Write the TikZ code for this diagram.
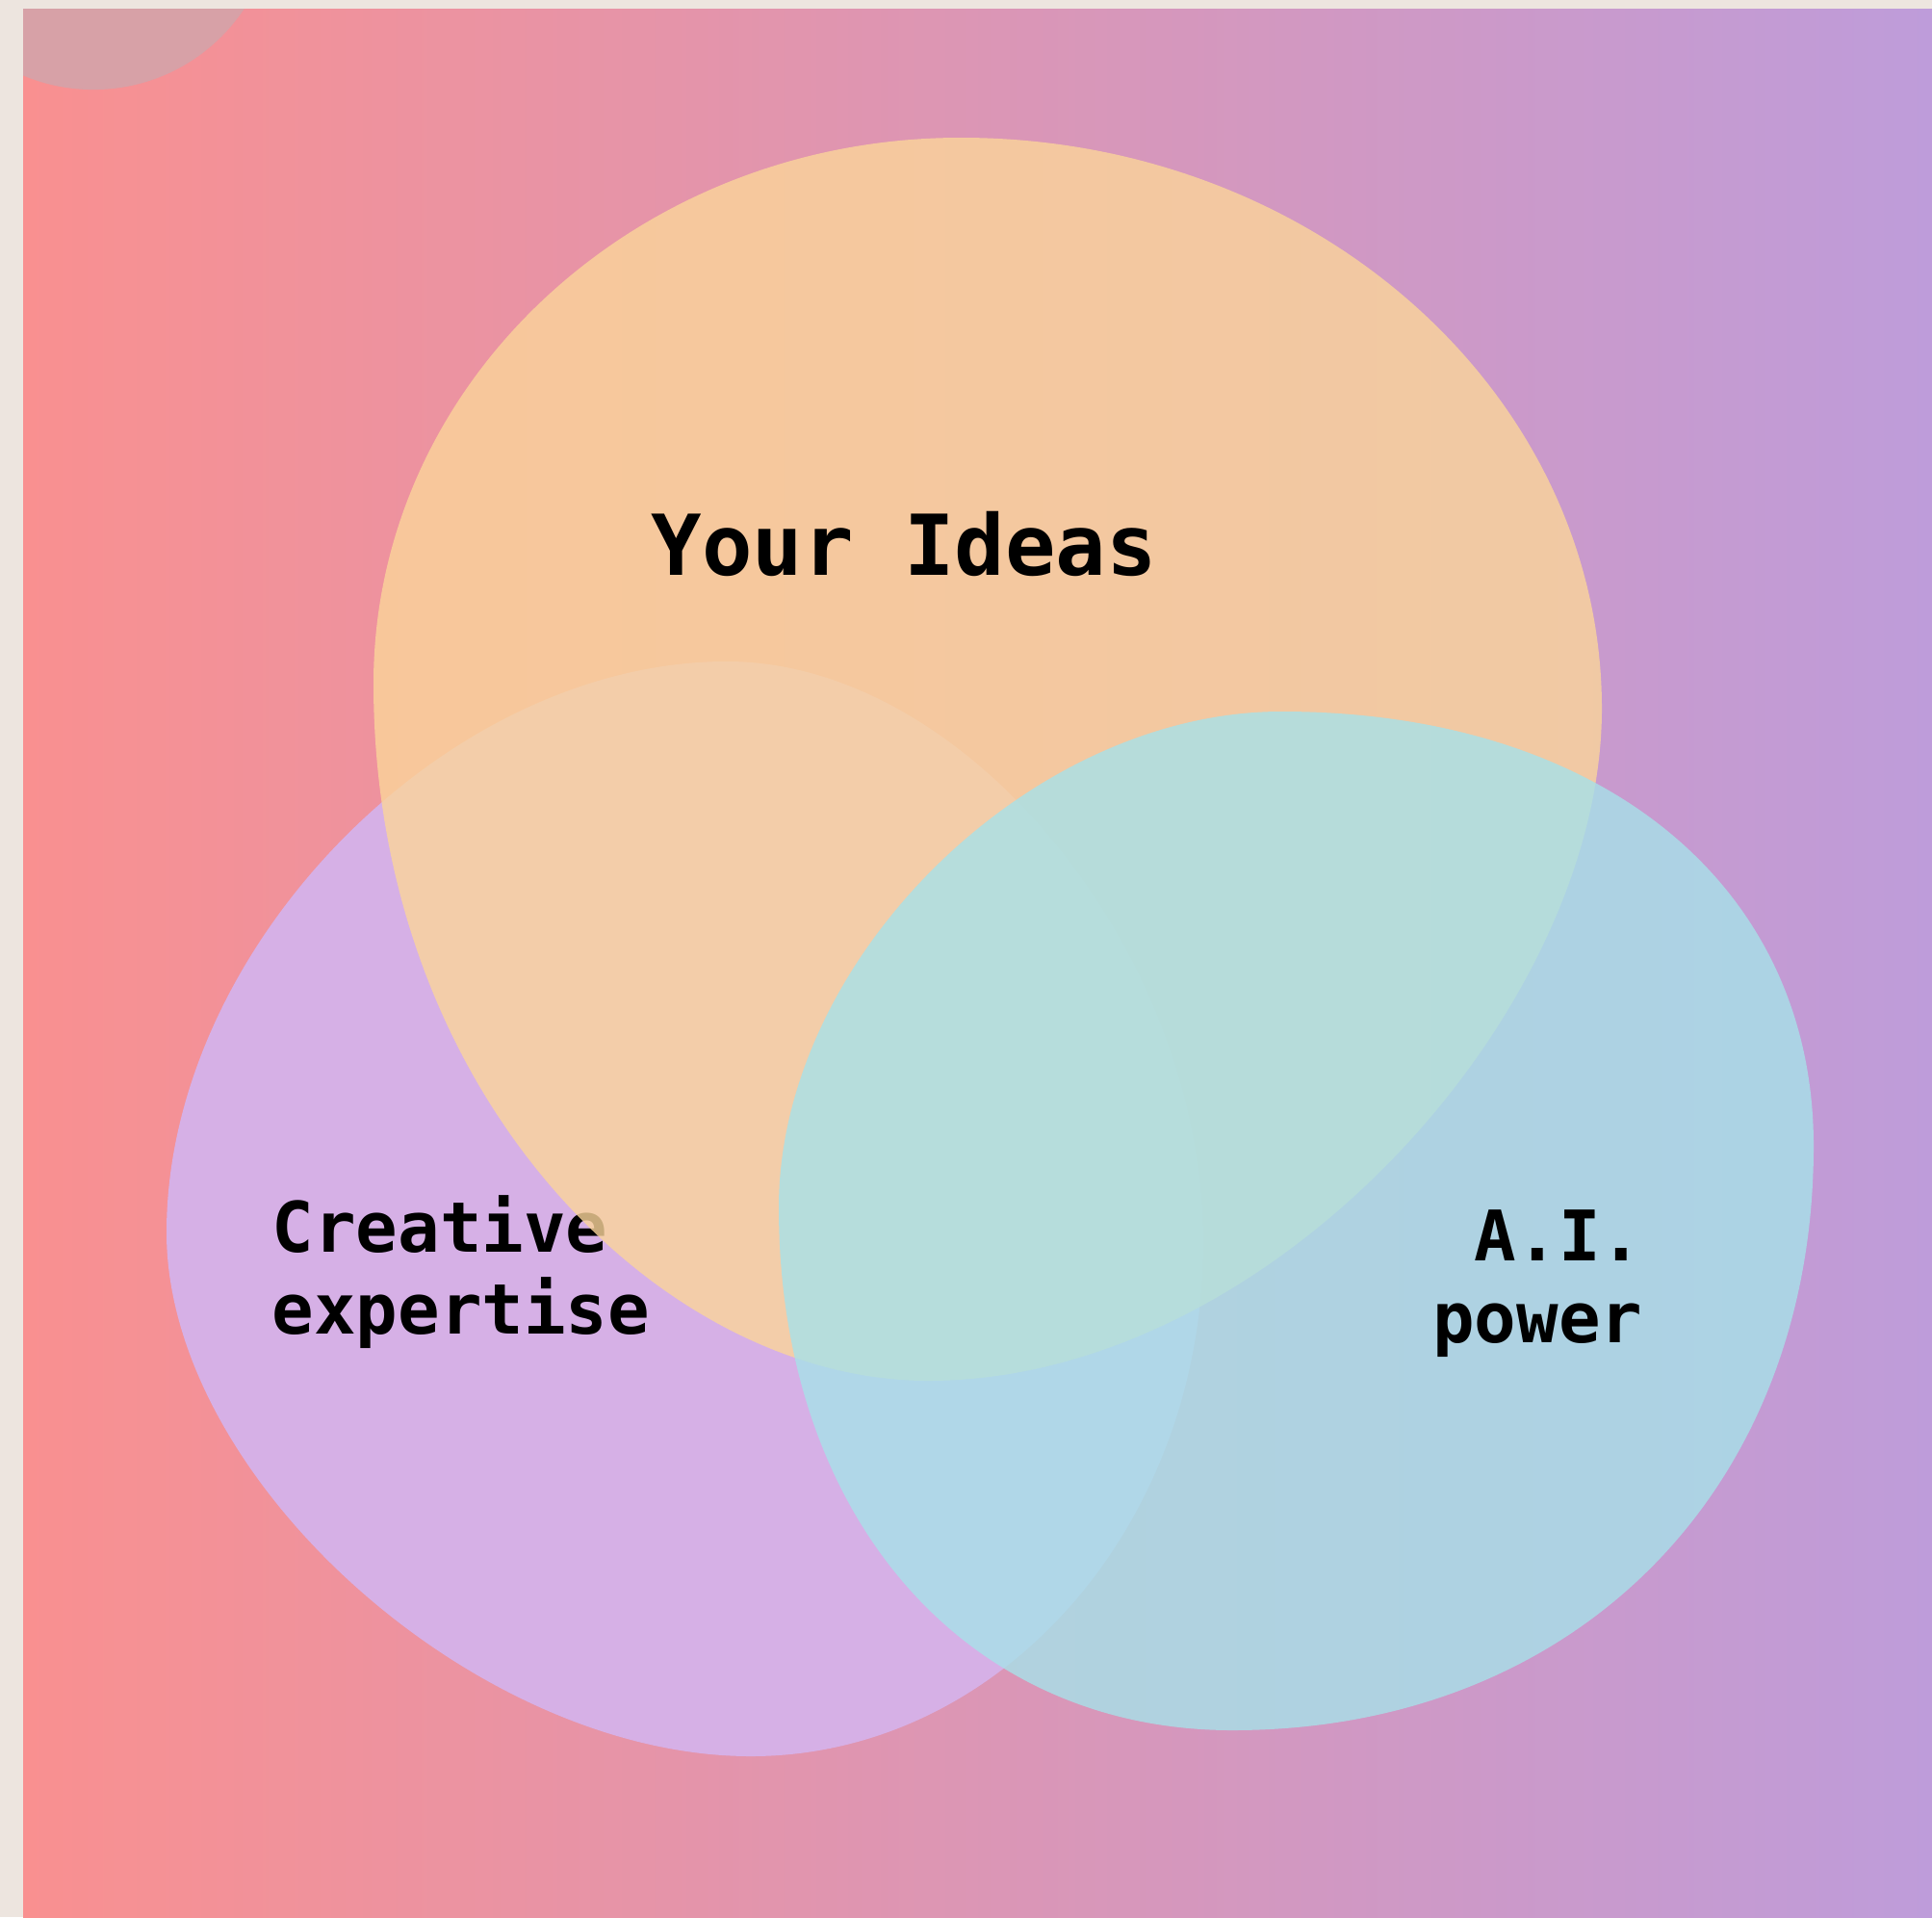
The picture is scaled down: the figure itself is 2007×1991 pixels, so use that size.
\documentclass[tikz,border=0pt]{standalone}
\usepackage{fontspec}
\newfontfamily\vennfont{DejaVu Sans Mono}
\definecolor{pagebg}{HTML}{EDE5DF}
\definecolor{warmleft}{HTML}{F99090}
\definecolor{coolright}{HTML}{BE9CDA}
\definecolor{dotpink}{HTML}{D7A1A7}
\definecolor{ideasorange}{HTML}{FBD59A}
\definecolor{craftlilac}{HTML}{D6B0E6}
\definecolor{aiblue}{HTML}{A7E1E9}

\begin{document}
\begin{tikzpicture}[x=0.01cm, y=-0.01cm,
blob/.style = {fill opacity=0.8},
caption/.style = {inner sep=0, font=\vennfont\bfseries\fontsize{20.6}{24}\selectfont}]
\useasboundingbox (0,0) rectangle (2007,1991);
\fill[pagebg] (0,0) rectangle (2007,1991);
\shade[left color=warmleft, right color=coolright] (24,10) rectangle (2007,1991);
\begin{scope}
\clip (24,10) rectangle (2007,1991);
\fill[dotpink] (97,-95) circle [radius=1.88cm];
\end{scope}
\fill[craftlilac] (755,687) .. controls +(248,0) and +(0,-302) .. (1250,1290)
    .. controls +(0,295) and +(259,0) .. (780,1824)
    .. controls +(-285,0) and +(0,256) .. (173,1280)
    .. controls +(0,-296) and +(-291,0) .. (755,687) -- cycle;
\node[caption, anchor=base west, align=left] (creative) at (282,1385) {Creative\\expertise};
\fill[ideasorange, blob] (998,143) .. controls +(368,0) and +(0,-327) .. (1664,736)
    .. controls +(0,314) and +(356,0) .. (964,1434)
    .. controls +(-274,0) and +(0,430) .. (388,710)
    .. controls +(0,-313) and +(-337,0) .. (998,143) -- cycle;
\fill[aiblue, blob] (1331,739) .. controls +(332,0) and +(0,-271) .. (1884,1190)
    .. controls +(0,358) and +(356,0) .. (1280,1797)
    .. controls +(-278,0) and +(0,320) .. (809,1254)
    .. controls +(0,-258) and +(-261,0) .. (1331,739) -- cycle;
\node[caption, anchor=base west, font=\vennfont\bfseries\fontsize{24.8}{30}\selectfont] (ideas) at (676,597) {Your Ideas};
\node[caption, anchor=base east, align=right] (aipower) at (1707,1394) {A.I.\\power};
\end{tikzpicture}
\end{document}
